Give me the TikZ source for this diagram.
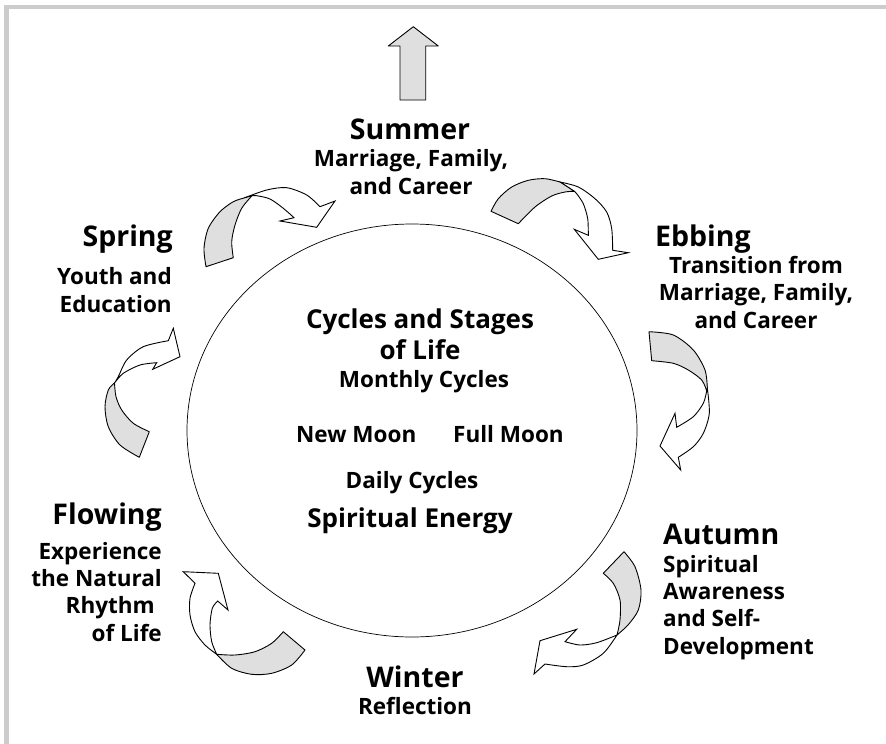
\documentclass[tikz,border=0pt]{standalone}
\usepackage{fontspec}
\setmainfont{Open Sans}
\usetikzlibrary{shapes.geometric}
\tikzstyle{season} = [font=\fontsize{28.5}{32}\selectfont\bfseries, inner sep=0pt]
\tikzstyle{desc} = [font=\fontsize{22.5}{27.3}\selectfont\bfseries, inner sep=0pt]
\tikzstyle{core} = [font=\fontsize{26}{31}\selectfont\bfseries, inner sep=0pt]
\tikzstyle{band} = [draw, line width=0.9pt, fill=gray!25, line join=round]
\tikzstyle{head} = [draw, line width=0.9pt, fill=white, line join=miter]
\tikzstyle{frame} = [fill=gray!40]

\begin{document}
\begin{tikzpicture}[x=1pt, y=-1pt]
    \useasboundingbox (0,0) rectangle (886,744);
    \fill[frame] (4,5) rectangle (886,9.3);
    \fill[frame] (4,5) rectangle (9.3,744);

    % central cycle (multi-line nodes sit on their last baseline)
    \node[draw, ellipse, line width=0.7pt, minimum width=450pt, minimum height=413pt] (cycle) at (412,430.5) {};
    \node[core, align=center, anchor=base] (stages) at (420,359) {Cycles and Stages\\of Life};
    \node[desc, anchor=base] (monthly) at (424,387) {Monthly Cycles};
    \node[desc, anchor=base west] (newmoon) at (296,442) {New Moon};
    \node[desc, anchor=base west] (fullmoon) at (453,442) {Full Moon};
    \node[desc, anchor=base] (daily) at (412,488) {Daily Cycles};
    \node[core, anchor=base] (energy) at (410,527) {Spiritual Energy};

    % seasons
    \node[season, anchor=base] (summer) at (410,139) {Summer};
    \node[desc, align=center, anchor=base] (summerdesc) at (411,194) {\fontsize{22.5}{26}\selectfont Marriage, Family,\\and Career};
    \node[season, anchor=base west] (ebbing) at (655,246) {Ebbing};
    \node[desc, align=center, anchor=base] (ebbingdesc) at (756,328) {Transition from\\Marriage, Family,\\and Career};
    \node[season, anchor=base west] (autumn) at (663,544) {Autumn};
    \node[desc, align=left, anchor=base west] (autumndesc) at (663,654) {Spiritual\\Awareness\\and Self-\\Development};
    \node[season, anchor=base] (winter) at (415,687) {Winter};
    \node[desc, anchor=base] (winterdesc) at (415,714) {Reflection};
    \node[season, anchor=base east] (flowing) at (162,524) {Flowing};
    \node[desc, align=right, anchor=base east] (flowingdesc) at (162,641) {\fontsize{22.5}{28.7}\selectfont Experience\\the Natural\\Rhythm\rule{7pt}{0pt}\\of Life};
    \node[season, anchor=base east] (spring) at (173,246) {Spring};
    \node[desc, align=right, anchor=base east] (springdesc) at (172,312) {\fontsize{22.5}{29}\selectfont Youth and\\Education};

    % arrows
    \draw[band] (400,100) -- (400,46) -- (388.3,46) -- (413.3,26.7) -- (438.3,46) -- (425.7,46) -- (425.7,100) -- cycle;
    % spring to summer
    \draw[head] (244,198) -- plot[smooth] coordinates {(244,198) (266.7,190) (286.7,187.7) (306.7,195) (320,206.7)} -- (335,201) -- (316.7,227.3) -- (280,221) -- (294,217.7) -- plot[smooth] coordinates {(294,217.7) (283.3,208.3) (270,199) (256.7,195.7) (252,195.7)} -- cycle;
    \draw[band] (206,266.7) -- plot[smooth] coordinates {(206,266.7) (204,248.3) (208.3,228.3) (220,211.7) (233.3,201.7) (244,198)} -- (252,195.7) -- plot[smooth] coordinates {(252,195.7) (241.7,208.3) (235,225) (231.7,241.7) (233.3,257.7)} -- cycle;
    % summer to ebbing
    \draw[head] (560,182) -- plot[smooth] coordinates {(560,182) (578.3,187) (595,198.7) (606.7,212) (611.7,228.7) (612.7,250.3)} -- (628.3,252.7) -- (598.3,259.3) -- (574.3,229.3) -- (588.3,235.3) -- plot[smooth] coordinates {(588.3,235.3) (587.7,218.7) (583.3,203.7) (576.7,193.7) (574.3,191.3)} -- cycle;
    \draw[band] (491,211.3) -- plot[smooth] coordinates {(491,211.3) (498.3,198.7) (511.7,187) (528.3,180.3) (545,178.7) (560,182)} -- (574.3,191.3) -- plot[smooth] coordinates {(574.3,191.3) (565,192) (551.7,196) (535,207) (518.3,223.7)} -- cycle;
    % ebbing to autumn
    \draw[head] (707.3,388) -- plot[smooth] coordinates {(707.3,388) (709.3,413.3) (703.3,433.3) (693.3,446.7) (678.3,457.3)} -- (680.7,470) -- (660,446) -- (675,413.3) -- (676.7,427.3) -- plot[smooth] coordinates {(676.7,427.3) (693.3,416.7) (703.3,403.3) (706.7,391)} -- cycle;
    \draw[band] (649,331.7) -- plot[smooth] coordinates {(649,331.7) (673.3,335) (693.3,350) (705,370) (707.3,388)} -- (706.7,391) -- plot[smooth] coordinates {(706.7,391) (701.7,380) (688.3,370) (673.3,363.3) (651.7,360.7)} -- cycle;
    % autumn to winter
    \draw[head] (617,635) -- plot[smooth] coordinates {(617,635) (603.3,653.3) (583.3,665) (566.7,666.7) (545,664)} -- (534,674) -- (540,640.7) -- (576.7,629.3) -- (565,641.7) -- plot[smooth] coordinates {(565,641.7) (580,645) (596.7,642.7) (617,635)} -- cycle;
    \draw[band] (624,551.7) -- plot[smooth] coordinates {(624,551.7) (635,566.7) (641,590) (638.3,610) (628,625) (617,635)} -- plot[smooth] coordinates {(617,635) (620,620) (620,600) (613.3,583.3) (603.3,573.3)} -- cycle;
    % winter to flowing
    \draw[head] (216.7,654.3) -- plot[smooth] coordinates {(216.7,654.3) (205,645) (195,631.7) (190,615) (190,598.3) (195,583.3)} -- (183.3,571.7) -- (218.3,573.3) -- (228,610) -- (217.7,601) -- plot[smooth] coordinates {(217.7,601) (212.3,608.3) (210,625) (211.7,641.7) (216.7,654.3)} -- cycle;
    \draw[band] (305,650) -- plot[smooth] coordinates {(305,650) (291.7,665) (271.7,673.3) (251.7,674.3) (231.7,668.3) (216.7,654.3)} -- plot[smooth] coordinates {(216.7,654.3) (235,655) (255,651.7) (271.7,643.3) (283.3,631.7)} -- cycle;
    % flowing to spring
    \draw[head] (114.5,383) -- plot[smooth] coordinates {(114.5,383) (118.3,376.7) (126.7,360) (143.3,346.7) (168.3,340.7)} -- (173.3,328.3) -- (180,356.7) -- (152.7,369.3) -- (156.7,362.7) -- plot[smooth] coordinates {(156.7,362.7) (140,365) (123.3,373.3) (114.5,383)} -- cycle;
    \draw[band] (139.3,457.3) -- plot[smooth] coordinates {(139.3,457.3) (120,445) (108.3,426.7) (105,406.7) (108.3,390) (114.5,383)} -- plot[smooth] coordinates {(114.5,383) (116,396.7) (121.7,410) (133.3,423.3) (149.3,431.7)} -- cycle;
\end{tikzpicture}
\end{document}
